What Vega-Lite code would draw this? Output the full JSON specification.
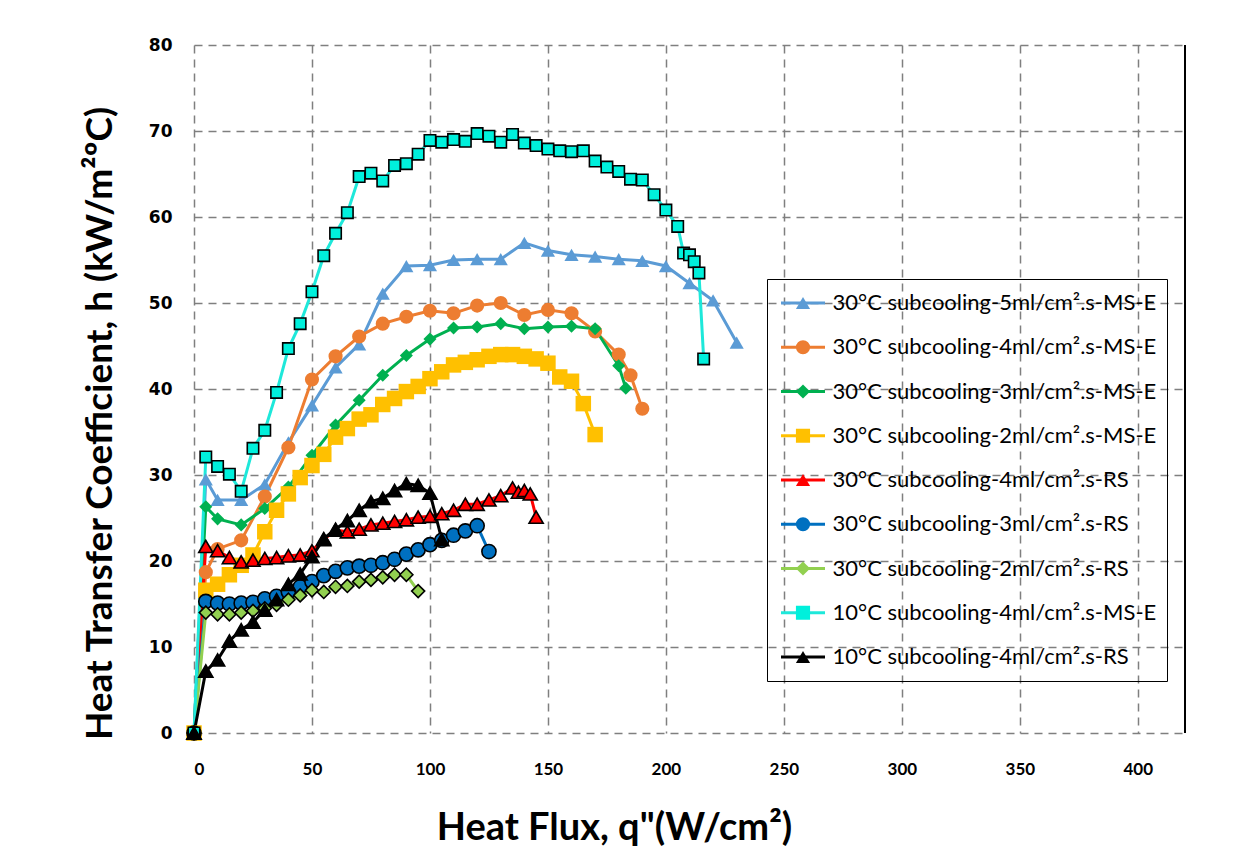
{
"$schema": "https://vega.github.io/schema/vega-lite/v6.json",
"width": 991, "height": 688,
"autosize": {"type": "none"},
"padding": {"left": 194, "top": 45, "right": 50, "bottom": 131},
"background": "white",
"config": {"view": {"stroke": null}},
"data": {"values": [
{"series":"30°C subcooling-5ml/cm².s-MS-E","q":0,"h":0},
{"series":"30°C subcooling-5ml/cm².s-MS-E","q":5,"h":29.5},
{"series":"30°C subcooling-5ml/cm².s-MS-E","q":10,"h":27.1},
{"series":"30°C subcooling-5ml/cm².s-MS-E","q":20,"h":27.1},
{"series":"30°C subcooling-5ml/cm².s-MS-E","q":30,"h":28.9},
{"series":"30°C subcooling-5ml/cm².s-MS-E","q":40,"h":33.8},
{"series":"30°C subcooling-5ml/cm².s-MS-E","q":50,"h":38.1},
{"series":"30°C subcooling-5ml/cm².s-MS-E","q":60,"h":42.5},
{"series":"30°C subcooling-5ml/cm².s-MS-E","q":70,"h":45.2},
{"series":"30°C subcooling-5ml/cm².s-MS-E","q":80,"h":51.1},
{"series":"30°C subcooling-5ml/cm².s-MS-E","q":90,"h":54.3},
{"series":"30°C subcooling-5ml/cm².s-MS-E","q":100,"h":54.4},
{"series":"30°C subcooling-5ml/cm².s-MS-E","q":110,"h":55.0},
{"series":"30°C subcooling-5ml/cm².s-MS-E","q":120,"h":55.1},
{"series":"30°C subcooling-5ml/cm².s-MS-E","q":130,"h":55.1},
{"series":"30°C subcooling-5ml/cm².s-MS-E","q":140,"h":57.0},
{"series":"30°C subcooling-5ml/cm².s-MS-E","q":150,"h":56.1},
{"series":"30°C subcooling-5ml/cm².s-MS-E","q":160,"h":55.6},
{"series":"30°C subcooling-5ml/cm².s-MS-E","q":170,"h":55.4},
{"series":"30°C subcooling-5ml/cm².s-MS-E","q":180,"h":55.1},
{"series":"30°C subcooling-5ml/cm².s-MS-E","q":190,"h":54.9},
{"series":"30°C subcooling-5ml/cm².s-MS-E","q":200,"h":54.3},
{"series":"30°C subcooling-5ml/cm².s-MS-E","q":210,"h":52.3},
{"series":"30°C subcooling-5ml/cm².s-MS-E","q":220,"h":50.3},
{"series":"30°C subcooling-5ml/cm².s-MS-E","q":230,"h":45.4},
{"series":"30°C subcooling-4ml/cm².s-MS-E","q":0,"h":0},
{"series":"30°C subcooling-4ml/cm².s-MS-E","q":5,"h":18.7},
{"series":"30°C subcooling-4ml/cm².s-MS-E","q":10,"h":21.4},
{"series":"30°C subcooling-4ml/cm².s-MS-E","q":20,"h":22.4},
{"series":"30°C subcooling-4ml/cm².s-MS-E","q":30,"h":27.5},
{"series":"30°C subcooling-4ml/cm².s-MS-E","q":40,"h":33.2},
{"series":"30°C subcooling-4ml/cm².s-MS-E","q":50,"h":41.1},
{"series":"30°C subcooling-4ml/cm².s-MS-E","q":60,"h":43.8},
{"series":"30°C subcooling-4ml/cm².s-MS-E","q":70,"h":46.1},
{"series":"30°C subcooling-4ml/cm².s-MS-E","q":80,"h":47.6},
{"series":"30°C subcooling-4ml/cm².s-MS-E","q":90,"h":48.4},
{"series":"30°C subcooling-4ml/cm².s-MS-E","q":100,"h":49.1},
{"series":"30°C subcooling-4ml/cm².s-MS-E","q":110,"h":48.8},
{"series":"30°C subcooling-4ml/cm².s-MS-E","q":120,"h":49.7},
{"series":"30°C subcooling-4ml/cm².s-MS-E","q":130,"h":50.0},
{"series":"30°C subcooling-4ml/cm².s-MS-E","q":140,"h":48.6},
{"series":"30°C subcooling-4ml/cm².s-MS-E","q":150,"h":49.2},
{"series":"30°C subcooling-4ml/cm².s-MS-E","q":160,"h":48.8},
{"series":"30°C subcooling-4ml/cm².s-MS-E","q":170,"h":46.7},
{"series":"30°C subcooling-4ml/cm².s-MS-E","q":180,"h":44.0},
{"series":"30°C subcooling-4ml/cm².s-MS-E","q":185,"h":41.6},
{"series":"30°C subcooling-4ml/cm².s-MS-E","q":190,"h":37.7},
{"series":"30°C subcooling-3ml/cm².s-MS-E","q":0,"h":0},
{"series":"30°C subcooling-3ml/cm².s-MS-E","q":5,"h":26.3},
{"series":"30°C subcooling-3ml/cm².s-MS-E","q":10,"h":24.9},
{"series":"30°C subcooling-3ml/cm².s-MS-E","q":20,"h":24.2},
{"series":"30°C subcooling-3ml/cm².s-MS-E","q":30,"h":26.1},
{"series":"30°C subcooling-3ml/cm².s-MS-E","q":40,"h":28.6},
{"series":"30°C subcooling-3ml/cm².s-MS-E","q":50,"h":32.3},
{"series":"30°C subcooling-3ml/cm².s-MS-E","q":60,"h":35.8},
{"series":"30°C subcooling-3ml/cm².s-MS-E","q":70,"h":38.7},
{"series":"30°C subcooling-3ml/cm².s-MS-E","q":80,"h":41.6},
{"series":"30°C subcooling-3ml/cm².s-MS-E","q":90,"h":43.9},
{"series":"30°C subcooling-3ml/cm².s-MS-E","q":100,"h":45.8},
{"series":"30°C subcooling-3ml/cm².s-MS-E","q":110,"h":47.1},
{"series":"30°C subcooling-3ml/cm².s-MS-E","q":120,"h":47.2},
{"series":"30°C subcooling-3ml/cm².s-MS-E","q":130,"h":47.6},
{"series":"30°C subcooling-3ml/cm².s-MS-E","q":140,"h":47.0},
{"series":"30°C subcooling-3ml/cm².s-MS-E","q":150,"h":47.2},
{"series":"30°C subcooling-3ml/cm².s-MS-E","q":160,"h":47.3},
{"series":"30°C subcooling-3ml/cm².s-MS-E","q":170,"h":47.0},
{"series":"30°C subcooling-3ml/cm².s-MS-E","q":180,"h":42.7},
{"series":"30°C subcooling-3ml/cm².s-MS-E","q":183,"h":40.1},
{"series":"30°C subcooling-2ml/cm².s-MS-E","q":0,"h":0},
{"series":"30°C subcooling-2ml/cm².s-MS-E","q":5,"h":16.6},
{"series":"30°C subcooling-2ml/cm².s-MS-E","q":10,"h":17.3},
{"series":"30°C subcooling-2ml/cm².s-MS-E","q":15,"h":18.4},
{"series":"30°C subcooling-2ml/cm².s-MS-E","q":20,"h":19.5},
{"series":"30°C subcooling-2ml/cm².s-MS-E","q":25,"h":20.7},
{"series":"30°C subcooling-2ml/cm².s-MS-E","q":30,"h":23.4},
{"series":"30°C subcooling-2ml/cm².s-MS-E","q":35,"h":25.9},
{"series":"30°C subcooling-2ml/cm².s-MS-E","q":40,"h":27.8},
{"series":"30°C subcooling-2ml/cm².s-MS-E","q":45,"h":29.7},
{"series":"30°C subcooling-2ml/cm².s-MS-E","q":50,"h":31.1},
{"series":"30°C subcooling-2ml/cm².s-MS-E","q":55,"h":32.4},
{"series":"30°C subcooling-2ml/cm².s-MS-E","q":60,"h":34.4},
{"series":"30°C subcooling-2ml/cm².s-MS-E","q":65,"h":35.4},
{"series":"30°C subcooling-2ml/cm².s-MS-E","q":70,"h":36.5},
{"series":"30°C subcooling-2ml/cm².s-MS-E","q":75,"h":37.0},
{"series":"30°C subcooling-2ml/cm².s-MS-E","q":80,"h":38.2},
{"series":"30°C subcooling-2ml/cm².s-MS-E","q":85,"h":38.9},
{"series":"30°C subcooling-2ml/cm².s-MS-E","q":90,"h":39.7},
{"series":"30°C subcooling-2ml/cm².s-MS-E","q":95,"h":40.3},
{"series":"30°C subcooling-2ml/cm².s-MS-E","q":100,"h":41.2},
{"series":"30°C subcooling-2ml/cm².s-MS-E","q":105,"h":42.0},
{"series":"30°C subcooling-2ml/cm².s-MS-E","q":110,"h":42.8},
{"series":"30°C subcooling-2ml/cm².s-MS-E","q":115,"h":43.1},
{"series":"30°C subcooling-2ml/cm².s-MS-E","q":120,"h":43.4},
{"series":"30°C subcooling-2ml/cm².s-MS-E","q":125,"h":43.8},
{"series":"30°C subcooling-2ml/cm².s-MS-E","q":130,"h":44.0},
{"series":"30°C subcooling-2ml/cm².s-MS-E","q":135,"h":44.0},
{"series":"30°C subcooling-2ml/cm².s-MS-E","q":140,"h":43.8},
{"series":"30°C subcooling-2ml/cm².s-MS-E","q":145,"h":43.5},
{"series":"30°C subcooling-2ml/cm².s-MS-E","q":150,"h":43.0},
{"series":"30°C subcooling-2ml/cm².s-MS-E","q":155,"h":41.4},
{"series":"30°C subcooling-2ml/cm².s-MS-E","q":160,"h":40.9},
{"series":"30°C subcooling-2ml/cm².s-MS-E","q":165,"h":38.3},
{"series":"30°C subcooling-2ml/cm².s-MS-E","q":170,"h":34.7},
{"series":"30°C subcooling-4ml/cm².s-RS","q":0,"h":0},
{"series":"30°C subcooling-4ml/cm².s-RS","q":5,"h":21.7},
{"series":"30°C subcooling-4ml/cm².s-RS","q":10,"h":21.2},
{"series":"30°C subcooling-4ml/cm².s-RS","q":15,"h":20.4},
{"series":"30°C subcooling-4ml/cm².s-RS","q":20,"h":19.9},
{"series":"30°C subcooling-4ml/cm².s-RS","q":25,"h":20.1},
{"series":"30°C subcooling-4ml/cm².s-RS","q":30,"h":20.3},
{"series":"30°C subcooling-4ml/cm².s-RS","q":35,"h":20.4},
{"series":"30°C subcooling-4ml/cm².s-RS","q":40,"h":20.6},
{"series":"30°C subcooling-4ml/cm².s-RS","q":45,"h":20.7},
{"series":"30°C subcooling-4ml/cm².s-RS","q":50,"h":21.2},
{"series":"30°C subcooling-4ml/cm².s-RS","q":55,"h":22.5},
{"series":"30°C subcooling-4ml/cm².s-RS","q":60,"h":23.6},
{"series":"30°C subcooling-4ml/cm².s-RS","q":65,"h":23.4},
{"series":"30°C subcooling-4ml/cm².s-RS","q":70,"h":23.7},
{"series":"30°C subcooling-4ml/cm².s-RS","q":75,"h":24.2},
{"series":"30°C subcooling-4ml/cm².s-RS","q":80,"h":24.4},
{"series":"30°C subcooling-4ml/cm².s-RS","q":85,"h":24.6},
{"series":"30°C subcooling-4ml/cm².s-RS","q":90,"h":24.8},
{"series":"30°C subcooling-4ml/cm².s-RS","q":95,"h":25.1},
{"series":"30°C subcooling-4ml/cm².s-RS","q":100,"h":25.2},
{"series":"30°C subcooling-4ml/cm².s-RS","q":105,"h":25.5},
{"series":"30°C subcooling-4ml/cm².s-RS","q":110,"h":25.9},
{"series":"30°C subcooling-4ml/cm².s-RS","q":115,"h":26.6},
{"series":"30°C subcooling-4ml/cm².s-RS","q":120,"h":26.6},
{"series":"30°C subcooling-4ml/cm².s-RS","q":125,"h":27.1},
{"series":"30°C subcooling-4ml/cm².s-RS","q":130,"h":27.6},
{"series":"30°C subcooling-4ml/cm².s-RS","q":135,"h":28.5},
{"series":"30°C subcooling-4ml/cm².s-RS","q":137.5,"h":28.0},
{"series":"30°C subcooling-4ml/cm².s-RS","q":140,"h":28.2},
{"series":"30°C subcooling-4ml/cm².s-RS","q":142.5,"h":27.8},
{"series":"30°C subcooling-4ml/cm².s-RS","q":145,"h":25.1},
{"series":"30°C subcooling-3ml/cm².s-RS","q":0,"h":0},
{"series":"30°C subcooling-3ml/cm².s-RS","q":5,"h":15.3},
{"series":"30°C subcooling-3ml/cm².s-RS","q":10,"h":15.1},
{"series":"30°C subcooling-3ml/cm².s-RS","q":15,"h":15.0},
{"series":"30°C subcooling-3ml/cm².s-RS","q":20,"h":15.1},
{"series":"30°C subcooling-3ml/cm².s-RS","q":25,"h":15.2},
{"series":"30°C subcooling-3ml/cm².s-RS","q":30,"h":15.6},
{"series":"30°C subcooling-3ml/cm².s-RS","q":35,"h":15.9},
{"series":"30°C subcooling-3ml/cm².s-RS","q":40,"h":16.4},
{"series":"30°C subcooling-3ml/cm².s-RS","q":45,"h":17.0},
{"series":"30°C subcooling-3ml/cm².s-RS","q":50,"h":17.6},
{"series":"30°C subcooling-3ml/cm².s-RS","q":55,"h":18.3},
{"series":"30°C subcooling-3ml/cm².s-RS","q":60,"h":18.8},
{"series":"30°C subcooling-3ml/cm².s-RS","q":65,"h":19.2},
{"series":"30°C subcooling-3ml/cm².s-RS","q":70,"h":19.4},
{"series":"30°C subcooling-3ml/cm².s-RS","q":75,"h":19.5},
{"series":"30°C subcooling-3ml/cm².s-RS","q":80,"h":19.8},
{"series":"30°C subcooling-3ml/cm².s-RS","q":85,"h":20.2},
{"series":"30°C subcooling-3ml/cm².s-RS","q":90,"h":20.8},
{"series":"30°C subcooling-3ml/cm².s-RS","q":95,"h":21.3},
{"series":"30°C subcooling-3ml/cm².s-RS","q":100,"h":21.9},
{"series":"30°C subcooling-3ml/cm².s-RS","q":105,"h":22.4},
{"series":"30°C subcooling-3ml/cm².s-RS","q":110,"h":23.0},
{"series":"30°C subcooling-3ml/cm².s-RS","q":115,"h":23.5},
{"series":"30°C subcooling-3ml/cm².s-RS","q":120,"h":24.1},
{"series":"30°C subcooling-3ml/cm².s-RS","q":125,"h":21.1},
{"series":"30°C subcooling-2ml/cm².s-RS","q":0,"h":0},
{"series":"30°C subcooling-2ml/cm².s-RS","q":5,"h":14.0},
{"series":"30°C subcooling-2ml/cm².s-RS","q":10,"h":13.8},
{"series":"30°C subcooling-2ml/cm².s-RS","q":15,"h":13.8},
{"series":"30°C subcooling-2ml/cm².s-RS","q":20,"h":14.0},
{"series":"30°C subcooling-2ml/cm².s-RS","q":25,"h":14.2},
{"series":"30°C subcooling-2ml/cm².s-RS","q":30,"h":14.5},
{"series":"30°C subcooling-2ml/cm².s-RS","q":35,"h":14.9},
{"series":"30°C subcooling-2ml/cm².s-RS","q":40,"h":15.5},
{"series":"30°C subcooling-2ml/cm².s-RS","q":45,"h":16.0},
{"series":"30°C subcooling-2ml/cm².s-RS","q":50,"h":16.6},
{"series":"30°C subcooling-2ml/cm².s-RS","q":55,"h":16.4},
{"series":"30°C subcooling-2ml/cm².s-RS","q":60,"h":17.0},
{"series":"30°C subcooling-2ml/cm².s-RS","q":65,"h":17.1},
{"series":"30°C subcooling-2ml/cm².s-RS","q":70,"h":17.6},
{"series":"30°C subcooling-2ml/cm².s-RS","q":75,"h":17.8},
{"series":"30°C subcooling-2ml/cm².s-RS","q":80,"h":18.1},
{"series":"30°C subcooling-2ml/cm².s-RS","q":85,"h":18.4},
{"series":"30°C subcooling-2ml/cm².s-RS","q":90,"h":18.4},
{"series":"30°C subcooling-2ml/cm².s-RS","q":95,"h":16.5},
{"series":"10°C subcooling-4ml/cm².s-MS-E","q":0,"h":0},
{"series":"10°C subcooling-4ml/cm².s-MS-E","q":5,"h":32.1},
{"series":"10°C subcooling-4ml/cm².s-MS-E","q":10,"h":31.0},
{"series":"10°C subcooling-4ml/cm².s-MS-E","q":15,"h":30.1},
{"series":"10°C subcooling-4ml/cm².s-MS-E","q":20,"h":28.1},
{"series":"10°C subcooling-4ml/cm².s-MS-E","q":25,"h":33.1},
{"series":"10°C subcooling-4ml/cm².s-MS-E","q":30,"h":35.2},
{"series":"10°C subcooling-4ml/cm².s-MS-E","q":35,"h":39.6},
{"series":"10°C subcooling-4ml/cm².s-MS-E","q":40,"h":44.7},
{"series":"10°C subcooling-4ml/cm².s-MS-E","q":45,"h":47.6},
{"series":"10°C subcooling-4ml/cm².s-MS-E","q":50,"h":51.3},
{"series":"10°C subcooling-4ml/cm².s-MS-E","q":55,"h":55.5},
{"series":"10°C subcooling-4ml/cm².s-MS-E","q":60,"h":58.1},
{"series":"10°C subcooling-4ml/cm².s-MS-E","q":65,"h":60.5},
{"series":"10°C subcooling-4ml/cm².s-MS-E","q":70,"h":64.7},
{"series":"10°C subcooling-4ml/cm².s-MS-E","q":75,"h":65.1},
{"series":"10°C subcooling-4ml/cm².s-MS-E","q":80,"h":64.2},
{"series":"10°C subcooling-4ml/cm².s-MS-E","q":85,"h":66.0},
{"series":"10°C subcooling-4ml/cm².s-MS-E","q":90,"h":66.2},
{"series":"10°C subcooling-4ml/cm².s-MS-E","q":95,"h":67.3},
{"series":"10°C subcooling-4ml/cm².s-MS-E","q":100,"h":68.9},
{"series":"10°C subcooling-4ml/cm².s-MS-E","q":105,"h":68.7},
{"series":"10°C subcooling-4ml/cm².s-MS-E","q":110,"h":69.0},
{"series":"10°C subcooling-4ml/cm².s-MS-E","q":115,"h":68.8},
{"series":"10°C subcooling-4ml/cm².s-MS-E","q":120,"h":69.7},
{"series":"10°C subcooling-4ml/cm².s-MS-E","q":125,"h":69.4},
{"series":"10°C subcooling-4ml/cm².s-MS-E","q":130,"h":68.7},
{"series":"10°C subcooling-4ml/cm².s-MS-E","q":135,"h":69.6},
{"series":"10°C subcooling-4ml/cm².s-MS-E","q":140,"h":68.6},
{"series":"10°C subcooling-4ml/cm².s-MS-E","q":145,"h":68.3},
{"series":"10°C subcooling-4ml/cm².s-MS-E","q":150,"h":67.9},
{"series":"10°C subcooling-4ml/cm².s-MS-E","q":155,"h":67.7},
{"series":"10°C subcooling-4ml/cm².s-MS-E","q":160,"h":67.6},
{"series":"10°C subcooling-4ml/cm².s-MS-E","q":165,"h":67.7},
{"series":"10°C subcooling-4ml/cm².s-MS-E","q":170,"h":66.5},
{"series":"10°C subcooling-4ml/cm².s-MS-E","q":175,"h":65.8},
{"series":"10°C subcooling-4ml/cm².s-MS-E","q":180,"h":65.3},
{"series":"10°C subcooling-4ml/cm².s-MS-E","q":185,"h":64.4},
{"series":"10°C subcooling-4ml/cm².s-MS-E","q":190,"h":64.3},
{"series":"10°C subcooling-4ml/cm².s-MS-E","q":195,"h":62.6},
{"series":"10°C subcooling-4ml/cm².s-MS-E","q":200,"h":60.8},
{"series":"10°C subcooling-4ml/cm².s-MS-E","q":205,"h":58.9},
{"series":"10°C subcooling-4ml/cm².s-MS-E","q":207.5,"h":55.8},
{"series":"10°C subcooling-4ml/cm².s-MS-E","q":210,"h":55.6},
{"series":"10°C subcooling-4ml/cm².s-MS-E","q":212,"h":54.8},
{"series":"10°C subcooling-4ml/cm².s-MS-E","q":214,"h":53.5},
{"series":"10°C subcooling-4ml/cm².s-MS-E","q":216,"h":43.5},
{"series":"10°C subcooling-4ml/cm².s-RS","q":0,"h":0},
{"series":"10°C subcooling-4ml/cm².s-RS","q":5,"h":7.2},
{"series":"10°C subcooling-4ml/cm².s-RS","q":10,"h":8.5},
{"series":"10°C subcooling-4ml/cm².s-RS","q":15,"h":10.7},
{"series":"10°C subcooling-4ml/cm².s-RS","q":20,"h":12.0},
{"series":"10°C subcooling-4ml/cm².s-RS","q":25,"h":12.9},
{"series":"10°C subcooling-4ml/cm².s-RS","q":30,"h":14.3},
{"series":"10°C subcooling-4ml/cm².s-RS","q":35,"h":15.5},
{"series":"10°C subcooling-4ml/cm².s-RS","q":40,"h":17.3},
{"series":"10°C subcooling-4ml/cm².s-RS","q":45,"h":18.5},
{"series":"10°C subcooling-4ml/cm².s-RS","q":50,"h":20.5},
{"series":"10°C subcooling-4ml/cm².s-RS","q":55,"h":22.6},
{"series":"10°C subcooling-4ml/cm².s-RS","q":60,"h":23.7},
{"series":"10°C subcooling-4ml/cm².s-RS","q":65,"h":24.7},
{"series":"10°C subcooling-4ml/cm².s-RS","q":70,"h":25.9},
{"series":"10°C subcooling-4ml/cm².s-RS","q":75,"h":26.9},
{"series":"10°C subcooling-4ml/cm².s-RS","q":80,"h":27.3},
{"series":"10°C subcooling-4ml/cm².s-RS","q":85,"h":28.2},
{"series":"10°C subcooling-4ml/cm².s-RS","q":90,"h":29.0},
{"series":"10°C subcooling-4ml/cm².s-RS","q":95,"h":28.8},
{"series":"10°C subcooling-4ml/cm².s-RS","q":100,"h":27.9},
{"series":"10°C subcooling-4ml/cm².s-RS","q":105,"h":22.5}
]},
"layer": [
{
"mark": {"type": "line", "strokeWidth": 3},
"encoding": {
"x": {"field": "q", "type": "quantitative", "title": "Heat Flux, q\"(W/cm²)",
 "scale": {"domain": [0, 420], "nice": false, "zero": false},
 "axis": {"values": [0,50,100,150,200,250,300,350,400], "grid": true, "gridDash": [8,6], "gridColor": "#7F7F7F", "gridWidth": 1.5, "domain": false, "ticks": false,
  "labelFont": "Lato", "labelFontWeight": "bold", "labelFontSize": 17, "labelColor": "#000", "labelPadding": 28,
  "titleFont": "Lato", "titleFontWeight": "bold", "titleFontSize": 38, "titleColor": "#000", "titleX": 420, "titleY": 95, "titleBaseline": "middle", "titleAlign": "center"}},
"y": {"field": "h", "type": "quantitative", "title": "Heat Transfer Coefficient, h (kW/m²ºC)",
 "scale": {"domain": [0, 80], "nice": false},
 "axis": {"values": [0,10,20,30,40,50,60,70,80], "grid": true, "gridDash": [8,6], "gridColor": "#7F7F7F", "gridWidth": 1.5, "domain": false, "ticks": false,
  "labelFont": "DejaVu Sans", "labelFontWeight": "bold", "labelFontSize": 17, "labelColor": "#000", "labelPadding": 22,
  "titleFont": "Lato", "titleFontWeight": "bold", "titleFontSize": 37, "titleColor": "#000", "titleAngle": -90, "titleX": -94, "titleY": 378, "titleBaseline": "middle", "titleAlign": "center"}},
"stroke": {"field": "series", "type": "nominal",
 "sort": ["30°C subcooling-5ml/cm².s-MS-E","30°C subcooling-4ml/cm².s-MS-E","30°C subcooling-3ml/cm².s-MS-E","30°C subcooling-2ml/cm².s-MS-E","30°C subcooling-4ml/cm².s-RS","30°C subcooling-3ml/cm².s-RS","30°C subcooling-2ml/cm².s-RS","10°C subcooling-4ml/cm².s-MS-E","10°C subcooling-4ml/cm².s-RS"],
 "scale": {"range": ["#5B9BD5","#ED7D31","#00B050","#FFC000","#FF0000","#0070C0","#92D050","#1EE8DA","#000000"]},
 "legend": {"orient": "none", "legendX": 573, "legendY": 234, "title": null, "symbolType": "stroke", "symbolSize": 1936, "symbolStrokeWidth": 3,
  "labelFont": "Lato", "labelFontSize": 22, "labelColor": "#000", "labelLimit": 500, "padding": 10, "clipHeight": 28, "rowPadding": 16.25, "labelOffset": 6, "symbolOffset": 2.5, "strokeColor": "#000"}}
}
},
{
"mark": {"type": "point", "filled": true, "stroke": "black", "opacity": 1},
"encoding": {
"x": {"field": "q", "type": "quantitative", "title": "Heat Flux, q\"(W/cm²)"},
"y": {"field": "h", "type": "quantitative", "title": "Heat Transfer Coefficient, h (kW/m²ºC)"},
"shape": {"field": "series", "type": "nominal",
 "scale": {"domain": ["30°C subcooling-5ml/cm².s-MS-E","30°C subcooling-4ml/cm².s-MS-E","30°C subcooling-3ml/cm².s-MS-E","30°C subcooling-2ml/cm².s-MS-E","30°C subcooling-4ml/cm².s-RS","30°C subcooling-3ml/cm².s-RS","30°C subcooling-2ml/cm².s-RS","10°C subcooling-4ml/cm².s-MS-E","10°C subcooling-4ml/cm².s-RS"],
  "range": ["triangle-up","circle","diamond","square","triangle-up","circle","diamond","square","triangle-up"]},
 "legend": {"orient": "none", "legendX": 573, "legendY": 234, "title": null, "symbolSize": 200,
  "labelFont": "Lato", "labelFontSize": 22, "labelExpr": "''", "labelLimit": 500, "padding": 10, "clipHeight": 28, "rowPadding": 16.25, "labelOffset": 6, "symbolOffset": 15, "symbolStrokeColor": "black",
  "encode": {"symbols": {"update": {"strokeWidth": {"signal": "(indexof(datum.value,'RS')>=0 || indexof(datum.value,'10°C')==0) ? 1.6 : 0"}}}}}},
"fill": {"field": "series", "type": "nominal",
 "scale": {"domain": ["30°C subcooling-5ml/cm².s-MS-E","30°C subcooling-4ml/cm².s-MS-E","30°C subcooling-3ml/cm².s-MS-E","30°C subcooling-2ml/cm².s-MS-E","30°C subcooling-4ml/cm².s-RS","30°C subcooling-3ml/cm².s-RS","30°C subcooling-2ml/cm².s-RS","10°C subcooling-4ml/cm².s-MS-E","10°C subcooling-4ml/cm².s-RS"],
  "range": ["#5B9BD5","#ED7D31","#00B050","#FFC000","#FF0000","#0070C0","#92D050","#00F0DC","#000000"]},
 "legend": {"orient": "none", "legendX": 573, "legendY": 234, "title": null, "symbolSize": 200,
  "labelFont": "Lato", "labelFontSize": 22, "labelExpr": "''", "labelLimit": 500, "padding": 10, "clipHeight": 28, "rowPadding": 16.25, "labelOffset": 6, "symbolOffset": 15, "symbolStrokeColor": "black",
  "encode": {"symbols": {"update": {"strokeWidth": {"signal": "(indexof(datum.value,'RS')>=0 || indexof(datum.value,'10°C')==0) ? 1.6 : 0"}}}}}},
"strokeWidth": {"condition": {"test": "indexof(datum.series,'RS')>=0 || indexof(datum.series,'10°C')==0", "value": 1.6}, "value": 0},
"size": {"condition": [
  {"test": "datum.series=='30°C subcooling-2ml/cm².s-MS-E'", "value": 240},
  {"test": "datum.series=='10°C subcooling-4ml/cm².s-MS-E'", "value": 130},
  {"test": "datum.series=='30°C subcooling-3ml/cm².s-MS-E' || datum.series=='30°C subcooling-2ml/cm².s-RS'", "value": 170}
 ], "value": 200}
}
},
{
"mark": {"type": "rule", "color": "black", "strokeWidth": 1.2},
"encoding": {"x": {"datum": 420}}
}
]
}
